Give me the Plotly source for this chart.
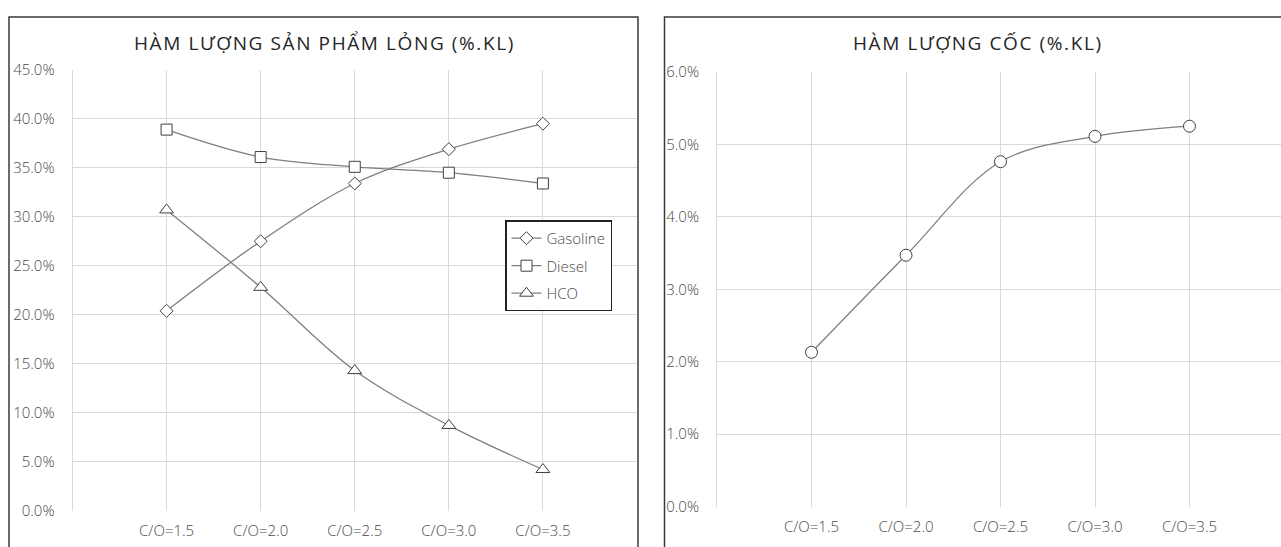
import plotly.graph_objects as go

W, H = 1281, 547

categories = ["C/O=1.5", "C/O=2.0", "C/O=2.5", "C/O=3.0", "C/O=3.5"]
gasoline = [20.4, 27.5, 33.4, 36.9, 39.5]
diesel = [38.9, 36.1, 35.1, 34.5, 33.4]
hco = [30.7, 22.8, 14.3, 8.7, 4.2]
coke = [2.13, 3.47, 4.76, 5.11, 5.25]

title_left = "HÀM LƯỢNG SẢN PHẨM LỎNG (%.KL)"
title_right = "HÀM LƯỢNG CỐC (%.KL)"

FONT = "Open Sans"
LINE = "#7f7f7f"
EDGE = "#404040"
GRID = "#d9d9d9"
TICK = "#4a4a4a"

# observed vertical mapping of the rendering pipeline (screen = OFF + SC * layout)
OFF, SC = 9.0, 0.966


def px(x):
    return x / W


def py(y):
    return 1 - ((y - OFF) / SC) / H


fig = go.Figure()


def add_series(name, vals, symbol, size, xa, ya, show, group):
    fig.add_trace(go.Scatter(
        x=categories, y=vals, name=name, mode="lines+markers",
        line=dict(color=LINE, width=1.3, shape="spline", smoothing=1),
        marker=dict(symbol=symbol, size=size, color="white",
                    line=dict(color=EDGE, width=1)),
        xaxis=xa, yaxis=ya, showlegend=show, legendgroup=group,
        cliponaxis=False,
    ))


add_series("Gasoline", gasoline, "diamond", 10, "x", "y", True, "g1")
add_series("Diesel", diesel, "square", 11, "x", "y", True, "g2")
add_series("HCO", hco, "triangle-up", 12, "x", "y", True, "g3")
add_series("Coke", coke, "circle", 12, "x2", "y2", False, "g4")

tick_font = dict(family=FONT, size=15, color=TICK, weight=300)
axis_common = dict(
    showgrid=True, gridcolor=GRID, gridwidth=1, zeroline=False,
    tickfont=tick_font, ticks="",
)

title_font = dict(family=FONT, size=19, color="#262626", weight=400)


def spaced(t):
    return '<span style="letter-spacing:1.6px">' + t + "</span>"


fig.update_layout(
    width=W, height=H, autosize=False,
    margin=dict(l=0, r=0, t=0, b=0, pad=0),
    paper_bgcolor="white", plot_bgcolor="white",
    font=dict(family=FONT, color=TICK),
    xaxis=dict(domain=[px(72.5), px(637)], type="category", range=[-1, 5],
               anchor="y", ticklabelstandoff=9, **axis_common),
    yaxis=dict(domain=[py(510), py(68)], range=[0, 45], dtick=5,
               tickformat=".1f", ticksuffix="%", anchor="x",
               showline=True, linecolor=GRID, linewidth=1,
               ticklabelstandoff=14, **axis_common),
    xaxis2=dict(domain=[px(717), 1.0], type="category",
                range=[-1, -1 + (W - 717) / 94.5],
                anchor="y2", ticklabelstandoff=9, **axis_common),
    yaxis2=dict(domain=[py(506), py(70)], range=[0, 6], dtick=1,
                tickformat=".1f", ticksuffix="%", anchor="x2",
                showline=True, linecolor=GRID, linewidth=1,
                ticklabelstandoff=14, **axis_common),
    legend=dict(x=px(505), y=py(219), xanchor="left", yanchor="top",
                bgcolor="white", bordercolor="#222222", borderwidth=1.5,
                font=dict(family=FONT, size=15, color=TICK, weight=300),
                traceorder="grouped", tracegroupgap=5, itemwidth=30),
    showlegend=True,
    annotations=[
        dict(text=spaced(title_left), x=px(324), y=py(41), xref="paper", yref="paper",
             xanchor="center", yanchor="middle", showarrow=False,
             font=title_font),
        dict(text=spaced(title_right), x=px(978), y=py(41), xref="paper", yref="paper",
             xanchor="center", yanchor="middle", showarrow=False,
             font=title_font),
    ],
    shapes=[
        dict(type="rect", xref="paper", yref="paper",
             x0=px(9), x1=px(638), y0=-0.1, y1=py(15),
             line=dict(color="#3a3a3a", width=1.5), fillcolor="rgba(0,0,0,0)"),
        dict(type="rect", xref="paper", yref="paper",
             x0=px(664.5), x1=1.05, y0=-0.1, y1=py(15),
             line=dict(color="#3a3a3a", width=1.5), fillcolor="rgba(0,0,0,0)"),
    ],
)

fig.write_html("out.html")
